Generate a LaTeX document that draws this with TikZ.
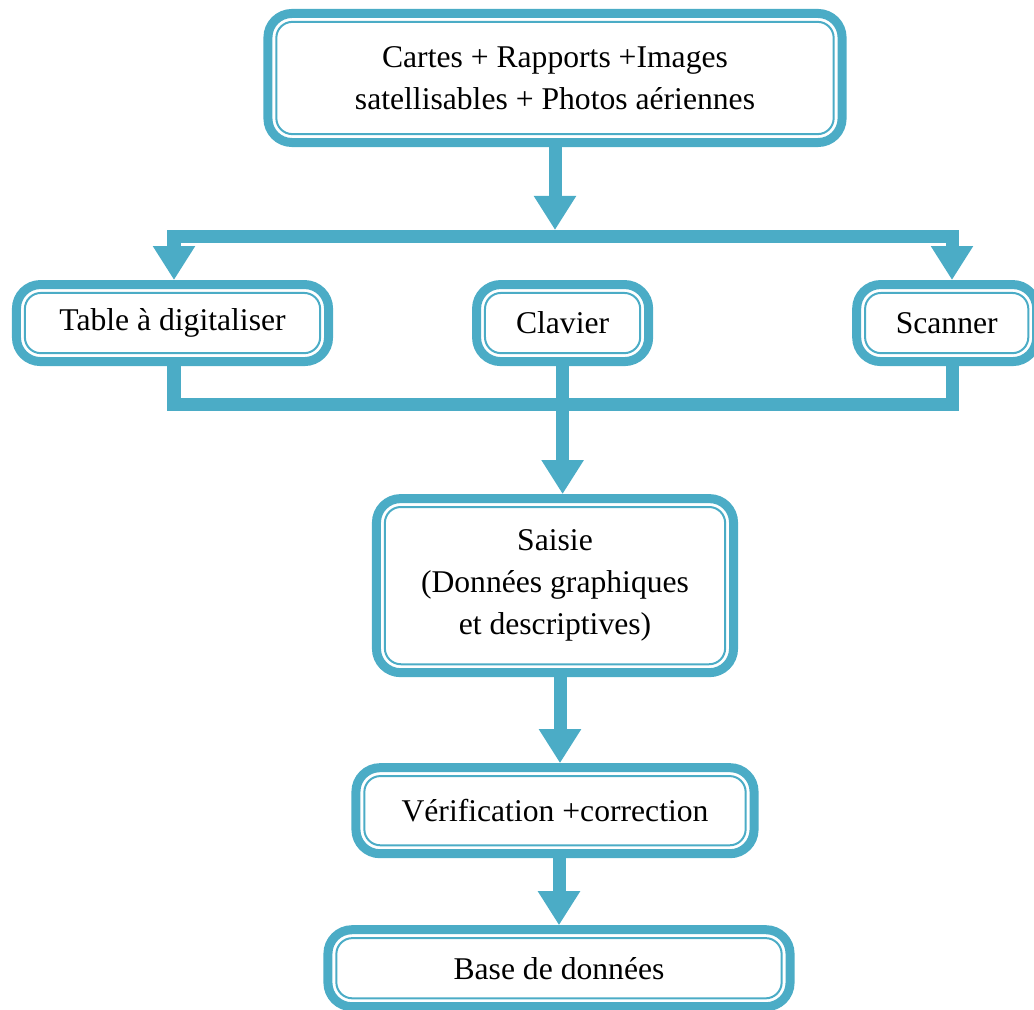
\documentclass[tikz,border=0pt]{standalone}
\usepackage{fontspec}
\setmainfont{Liberation Serif}
\usetikzlibrary{arrows.meta,positioning}
\definecolor{flowblue}{RGB}{75,172,198}
\tikzset{stepbox/.style={
    % The shape:
    rectangle,
    rounded corners=0.6cm,
    % The border:
    draw=flowblue,
    line width=0.225cm,
    % The thin inner border:
    path picture={\draw[flowblue,line width=0.05cm,rounded corners=0.4cm]
      ([shift={(0.21cm,0.21cm)}]path picture bounding box.south west) rectangle
      ([shift={(-0.21cm,-0.21cm)}]path picture bounding box.north east);},
    % Font
    font=\fontsize{22.5}{30}\selectfont,
    align=center,
    inner sep=0pt,
    },
    bus/.style={
    draw=flowblue,
    line width=0.325cm,
    },
    flow/.style={
    bus,
    -{Triangle[width=1cm,length=0.85cm]},
    },
    fork/.style={
    bus,
    {Triangle[width=1cm,length=0.85cm]}-{Triangle[width=1cm,length=0.85cm]},
    },
}

\begin{document}
\begin{tikzpicture}[x=0.025cm,y=-0.025cm]
    \useasboundingbox (0,0) rectangle (1034,1010);
    \node (sources) [stepbox,minimum width=14.35cm,minimum height=3.225cm] at (555,78)
        {Cartes + Rapports +Images\\satellisables + Photos aériennes};
    \node (clavier) [stepbox,minimum width=4.3cm,minimum height=1.925cm,below=3.325cm of sources,xshift=0.19cm] {Clavier};
    \node (table)   [stepbox,minimum width=7.8cm,minimum height=1.925cm,left=3.475cm of clavier] {Table à digitaliser};
    \node (scanner) [stepbox,minimum width=4.5cm,minimum height=1.925cm,right=4.975cm of clavier] {Scanner};
    \node (saisie)  [stepbox,minimum width=8.925cm,minimum height=4.35cm,below=3.2cm of clavier,xshift=-0.19cm]
        {Saisie\\(Données graphiques\\et descriptives)};
    \node (verif)   [stepbox,minimum width=9.95cm,minimum height=2.15cm,below=2.15cm of saisie] {Vérification +correction};
    \node (base)    [stepbox,minimum width=11.55cm,minimum height=1.925cm,below=1.675cm of verif,xshift=0.1cm] {Base de données};

    \coordinate (splitM) at (555,230);
    \coordinate (splitL) at (174,236.5);
    \coordinate (splitR) at (952,236.5);
    \coordinate (joinL)  at (174,404.5);
    \coordinate (joinR)  at (952,404.5);

    \draw[flow] (sources.south) -- (splitM);
    \draw[fork] (table.north -| splitL) -- (splitL) -- (splitR) -- (scanner.north -| splitR);
    \draw[bus]  (table.south -| joinL) -- (joinL) -- (joinR) -- (scanner.south -| joinR);
    \draw[flow] (clavier.south) -- (clavier.south |- saisie.north);
    \draw[flow] ([xshift=0.125cm]saisie.south) -- ([xshift=0.125cm]saisie.south |- verif.north);
    \draw[flow] (base.north |- verif.south) -- (base.north);
\end{tikzpicture}
\end{document}
